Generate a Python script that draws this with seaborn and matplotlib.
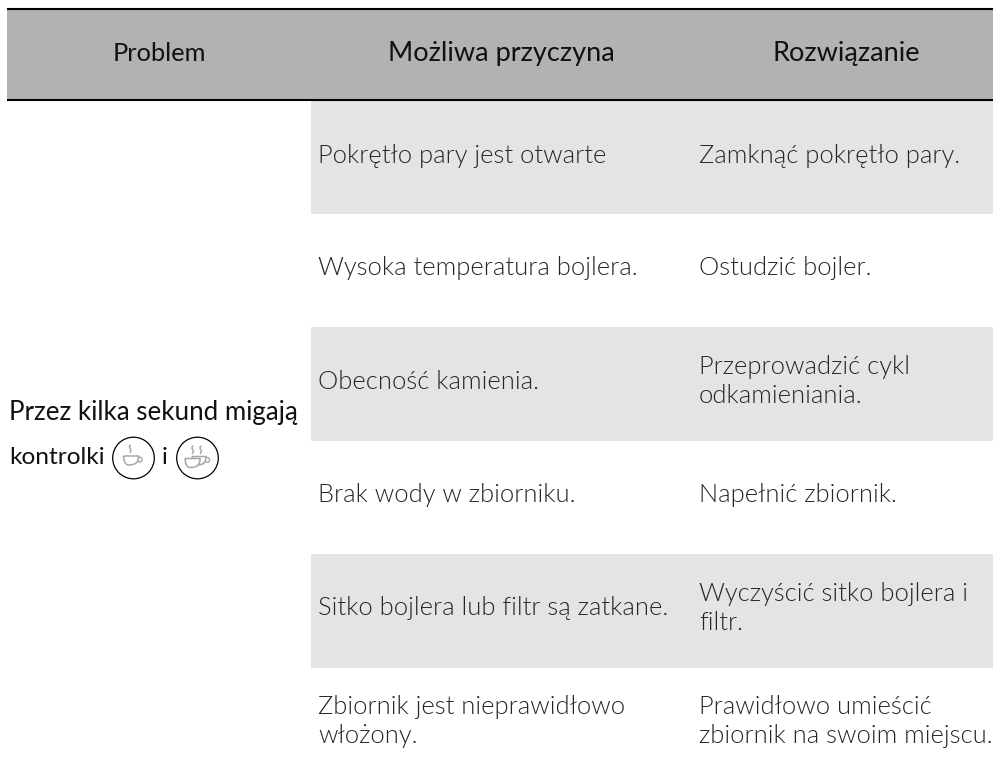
import seaborn as sns
import pandas as pd
import matplotlib
matplotlib.use("Agg")
import matplotlib.pyplot as plt
from matplotlib.patches import Circle, Rectangle, PathPatch
from matplotlib.path import Path

sns.set_theme(style="white")
plt.rcParams['font.family'] = ['Lato', 'DejaVu Sans']

W, H = 993, 773
headers = ["Problem", "Możliwa przyczyna", "Rozwiązanie"]
problem = ["Przez kilka sekund migają", "kontrolki"]
causes = ["Pokrętło pary jest otwarte", "Wysoka temperatura bojlera.", "Obecność kamienia.",
          "Brak wody w zbiorniku.", "Sitko bojlera lub filtr są zatkane.", "Zbiornik jest nieprawidłowo\nwłożony."]
fixes = ["Zamknąć pokrętło pary.", "Ostudzić bojler.", "Przeprowadzić cykl\nodkamieniania.",
         "Napełnić zbiornik.", "Wyczyścić sitko bojlera i\nfiltr.", "Prawidłowo umieścić\nzbiornik na swoim miejscu."]
shade = [[1], [0], [1], [0], [1], [0]]

fig = plt.figure(figsize=(W/100, H/100), dpi=100, facecolor="white")

# body stripes
axb = fig.add_axes([311/W, 0, (W-311)/W, (773-100.5)/H])
sns.heatmap(pd.DataFrame(shade), ax=axb, cmap=["white", "#e4e4e4"], cbar=False,
            xticklabels=False, yticklabels=False, vmin=0, vmax=1)
axb.set_ylim((773-100.5)/113.4, 0)

ax = fig.add_axes([0, 0, 1, 1])
ax.set_xlim(0, W); ax.set_ylim(H, 0); ax.axis("off"); ax.patch.set_alpha(0)
ax.add_patch(Rectangle((7, 9), W-7, 90.5, color="#b2b2b2", lw=0))
ax.plot([7, W], [9, 9], color="black", lw=1.5, solid_capstyle="butt")
ax.plot([7, W], [99.7, 99.7], color="black", lw=1.5, solid_capstyle="butt")

INK, SOFT, ICON = "#111111", "#262626", "#a6a8aa"
for x, t, s in zip([159, 501, 846], headers, [18.3, 19.5, 19.5]):
    ax.text(x, 61, t, ha="center", va="baseline", fontsize=s, color=INK)
ax.text(9, 420, problem[0], ha="left", va="baseline", fontsize=18.6, color=INK)
ax.text(9, 464, problem[1], ha="left", va="baseline", fontsize=17.6, color=INK)
ax.text(165, 464, "i", ha="center", va="baseline", fontsize=17.6, color=INK)

cause_y = [163, 275, 389, 502, 615, 743]
fix_y = [163, 275, 403, 502, 630, 743]
def block(x, y, text):
    lines = text.split("\n")
    for i, line in enumerate(lines):
        ax.text(x, y - 29*(len(lines)-1-i), line, ha="left", va="baseline",
                fontsize=18.4, color=SOFT, fontweight=300)
for y, c in zip(cause_y, causes):
    block(318, y, c)
for y, f in zip(fix_y, fixes):
    block(699, y, f)

def steam(x, y):
    v = [(x+1.5, y), (x-3, y+2), (x+4, y+4), (x, y+8)]
    ax.add_patch(PathPatch(Path(v, [Path.MOVETO, Path.CURVE4, Path.CURVE4, Path.CURVE4]),
                           fc="none", ec=ICON, lw=1.1))

def cup(x, y, w, h):
    v = [(x, y), (x+w, y), (x+w, y+h*0.85), (x+w*0.72, y+h), (x+w*0.28, y+h), (x, y+h*0.85), (x, y), (x, y)]
    c = [Path.MOVETO, Path.LINETO, Path.CURVE4, Path.CURVE4, Path.LINETO, Path.CURVE4, Path.CURVE4, Path.CLOSEPOLY]
    ax.add_patch(PathPatch(Path(v, c), fc="white", ec=ICON, lw=1.1, zorder=3))
    ax.add_patch(Circle((x+w+1.2, y+h*0.4), 2.4, fc="none", ec=ICON, lw=1.0, zorder=2))

for cx in [133.5, 197.5]:
    ax.add_patch(Circle((cx, 458), 20.8, fc="white", ec="black", lw=0.9, zorder=1))
steam(129.5, 445)
cup(123.5, 456, 15, 9)
steam(192, 446); steam(200, 446)
cup(192, 456.5, 14, 8.5)
cup(185, 458.5, 15, 9)

fig.savefig("out.png", dpi=100)
